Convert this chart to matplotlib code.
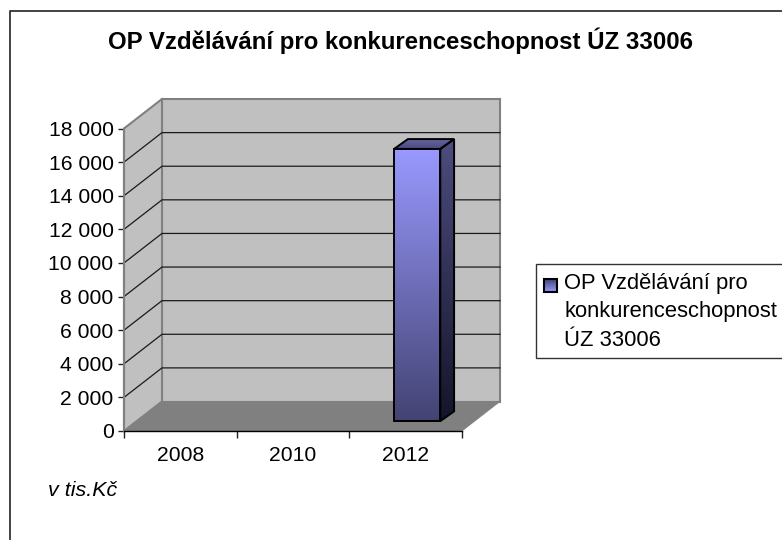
import numpy as np
import matplotlib
matplotlib.use('Agg')
import matplotlib.pyplot as plt
from matplotlib.colors import LinearSegmentedColormap
from matplotlib.patches import Polygon, Rectangle

years = ['2008', '2010', '2012']
values = [0, 0, 16200]
y_ticks = [0, 2000, 4000, 6000, 8000, 10000, 12000, 14000, 16000, 18000]
y_labels = ['0', '2 000', '4 000', '6 000', '8 000', '10 000', '12 000', '14 000', '16 000', '18 000']
title = 'OP Vzdělávání pro konkurenceschopnost ÚZ 33006'
legend_lines = ['OP Vzdělávání pro', 'konkurenceschopnost', 'ÚZ 33006']
note = 'v tis.Kč'

W, H = 782, 540
plt.rcParams['font.family'] = ['Liberation Sans', 'DejaVu Sans']
fig = plt.figure(figsize=(W / 100, H / 100), dpi=100, facecolor='white')

# background layer in pixels, for the frame, legend and texts
bg = fig.add_axes([0, 0, 1, 1], zorder=0)
bg.set_xlim(0, W)
bg.set_ylim(H, 0)
bg.axis('off')
bg.plot([10, 10, W], [H, 11, 11], color='#222222', lw=1.2, clip_on=False)

# front plane of the 3d box
left, right, top, bottom = 124, 462, 128.5, 431
ax = fig.add_axes([left / W, 1 - bottom / H, (right - left) / W, (bottom - top) / H], zorder=1)
ax.set_xlim(0, 3)
ax.set_ylim(0, 18000)
ax.patch.set_visible(False)
for s in ['top', 'right']:
    ax.spines[s].set_visible(False)
ax.spines['left'].set_color('#808080')
ax.spines['left'].set_linewidth(1.5)
ax.spines['bottom'].set_color('black')
ax.spines['bottom'].set_linewidth(1.0)

# depth of the box in data units
dx = 38 / (right - left) * 3
dy = 29.5 / (bottom - top) * 18000

wall = '#C0C0C0'
edge = '#808080'
ax.add_patch(Polygon([(dx, dy), (3 + dx, dy), (3 + dx, 18000 + dy), (dx, 18000 + dy)],
                     fc=wall, ec=edge, lw=1.5, clip_on=False, zorder=1))
ax.add_patch(Polygon([(0, 0), (dx, dy), (dx, 18000 + dy), (0, 18000)],
                     fc=wall, ec=edge, lw=1.5, clip_on=False, zorder=1))
ax.add_patch(Polygon([(0, 0), (3, 0), (3 + dx, dy), (dx, dy)],
                     fc=edge, ec=edge, lw=0.5, clip_on=False, zorder=1))
for t in y_ticks[1:-1]:
    ax.plot([0, dx, 3 + dx], [t, t + dy, t + dy], color='#1a1a1a', lw=0.9, clip_on=False, zorder=2)


def gradient(verts, c_top, c_bot, z):
    # vertical gradient clipped to a polygon
    cmap = LinearSegmentedColormap.from_list('g', [c_bot, c_top])
    xs = [v[0] for v in verts]
    ys = [v[1] for v in verts]
    im = ax.imshow(np.linspace(0, 1, 256).reshape(-1, 1), cmap=cmap, origin='lower', aspect='auto',
                   extent=[min(xs), max(xs), min(ys), max(ys)], zorder=z, interpolation='bilinear')
    outline = Polygon(verts, fc='none', ec='black', lw=1.4, clip_on=False, zorder=z + 0.1)
    ax.add_patch(outline)
    im.set_clip_path(outline)


# bars sit in the middle third of the depth
bar_w = 0.41
for i, v in enumerate(values):
    if v <= 0:
        continue
    x0 = i + 0.5 - bar_w / 2 + dx / 3 - 0.01
    x1 = x0 + bar_w
    y0 = dy / 3
    y1 = y0 + v
    ox, oy = dx / 3 + 0.01, dy / 3
    gradient([(x1, y0), (x1 + ox, y0 + oy), (x1 + ox, y1 + oy), (x1, y1)], '#4D4D80', '#14142A', 3)
    gradient([(x0, y1), (x1, y1), (x1 + ox, y1 + oy), (x0 + ox, y1 + oy)], '#66669F', '#4A4A80', 3)
    gradient([(x0, y0), (x1, y0), (x1, y1), (x0, y1)], '#9999FF', '#434373', 4)

ax.set_xlim(0, 3)
ax.set_ylim(0, 18000)
ax.set_xticks([0, 1, 2, 3])
ax.set_xticklabels([])
ax.set_xticks([0.5, 1.5, 2.5], labels=years, minor=True)
ax.tick_params(axis='x', which='major', length=5, width=1, color='#222222')
ax.tick_params(axis='x', which='minor', length=0, pad=10.5, labelsize=15.2)
ax.set_yticks(y_ticks, labels=y_labels)
ax.tick_params(axis='y', length=4, width=1, color='#222222', pad=3.5, labelsize=15.2)

bg.text(400, 41, title, ha='center', va='center', fontsize=17.3, fontweight='bold')
bg.text(48, 490, note, ha='left', va='center', fontsize=15.4, style='italic')

# legend
bg.add_patch(Rectangle((536, 264), W, 94, fc='white', ec='#333333', lw=1.0))
cmap = LinearSegmentedColormap.from_list('k', ['#434373', '#9999FF'])
bg.imshow(np.linspace(0, 1, 32).reshape(-1, 1), cmap=cmap, origin='upper', aspect='auto',
          extent=[544, 557, 292, 279], zorder=3)
bg.add_patch(Rectangle((544, 279), 13, 13, fc='none', ec='black', lw=1.5, zorder=4))
bg.set_xlim(0, W)
bg.set_ylim(H, 0)
for text, yy in zip(legend_lines, [284, 312, 340]):
    bg.text(564, yy, text, ha='left', va='center', fontsize=15.8)

fig.savefig('out.png', dpi=100)
